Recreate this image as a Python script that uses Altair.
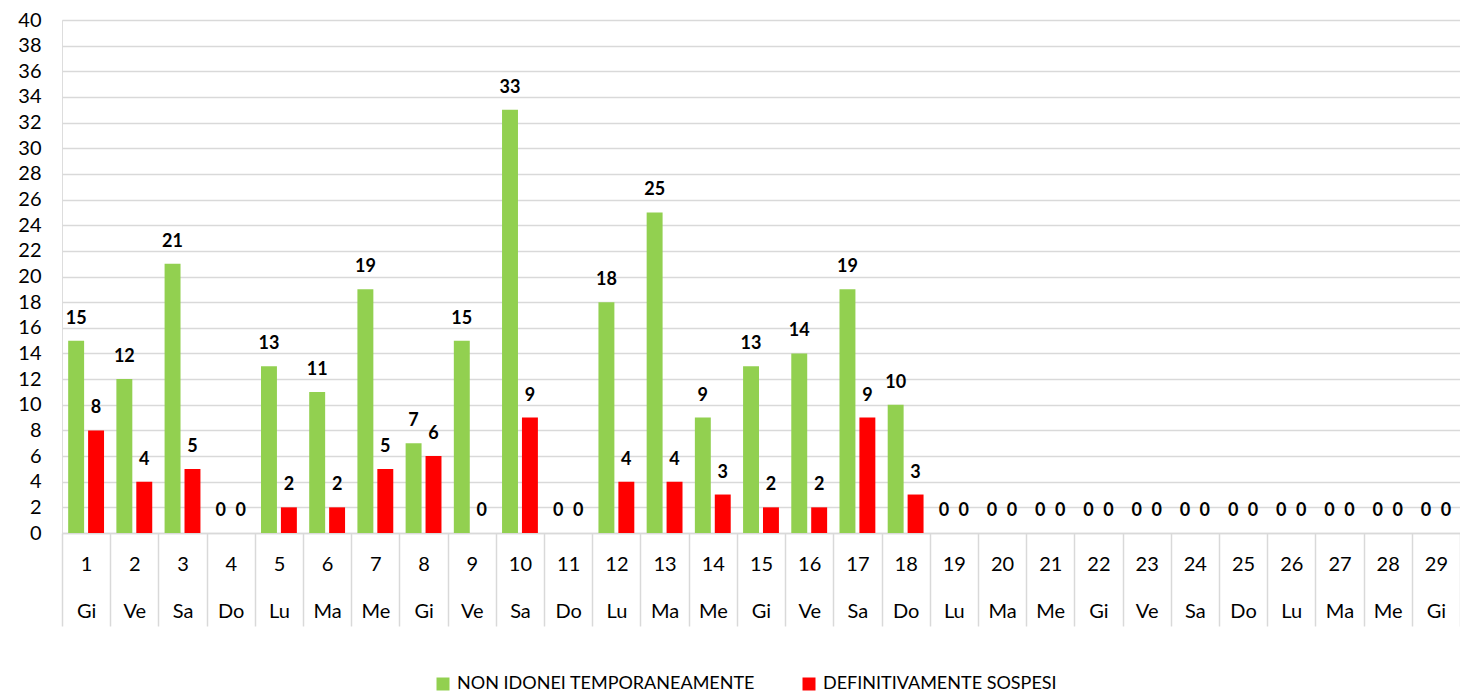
import altair as alt
import pandas as pd

days = [str(i) for i in range(1, 30)]
weekdays = ["Gi", "Ve", "Sa", "Do", "Lu", "Ma", "Me", "Gi", "Ve", "Sa", "Do", "Lu", "Ma", "Me",
            "Gi", "Ve", "Sa", "Do", "Lu", "Ma", "Me", "Gi", "Ve", "Sa", "Do", "Lu", "Ma", "Me", "Gi"]
non_idonei = [15, 12, 21, 0, 13, 11, 19, 7, 15, 33, 0, 18, 25, 9, 13, 14, 19, 10,
              0, 0, 0, 0, 0, 0, 0, 0, 0, 0, 0]
sospesi = [8, 4, 5, 0, 2, 2, 5, 6, 0, 9, 0, 4, 4, 3, 2, 2, 9, 3,
           0, 0, 0, 0, 0, 0, 0, 0, 0, 0, 0]
series_names = ["NON IDONEI TEMPORANEAMENTE", "DEFINITIVAMENTE SOSPESI"]
series_colors = ["#92d050", "#ff0000"]

keys = [f"{d}|{w}" for d, w in zip(days, weekdays)]
rows = []
for k, a, b in zip(keys, non_idonei, sospesi):
    rows.append({"key": k, "series": series_names[0], "value": a})
    rows.append({"key": k, "series": series_names[1], "value": b})
df = pd.DataFrame(rows)

FONT = "Lato"

x_enc = alt.X(
    "key:N",
    sort=keys,
    title=None,
    scale=alt.Scale(paddingInner=0, paddingOuter=0),
    axis=alt.Axis(
        labelAngle=0,
        labelExpr="split(datum.label, '|')",
        labelFontSize=20,
        labelColor="#000000",
        labelFont=FONT,
        labelLineHeight=47,
        labelPadding=-72,
        labelBaseline="top",
        ticks=True,
        tickBand="extent",
        tickSize=93,
        tickColor="#d9d9d9",
        tickWidth=1.5,
        domainColor="#d9d9d9",
        domainWidth=1.5,
        grid=False,
    ),
)
xoff_enc = alt.XOffset(
    "series:N",
    scale=alt.Scale(domain=series_names, paddingInner=0.2, paddingOuter=0.31),
)
y_enc = alt.Y(
    "value:Q",
    title=None,
    scale=alt.Scale(domain=[0, 40], nice=False),
    axis=alt.Axis(
        values=list(range(0, 41, 2)),
        grid=True,
        gridColor="#d9d9d9",
        gridWidth=1.5,
        domain=False,
        ticks=False,
        labelPadding=21,
        labelFontSize=20,
        labelColor="#000000",
        labelFont=FONT,
    ),
)

base = alt.Chart(df).encode(x=x_enc, xOffset=xoff_enc, y=y_enc)

bars = base.mark_bar().encode(
    color=alt.Color(
        "series:N",
        scale=alt.Scale(domain=series_names, range=series_colors),
        legend=alt.Legend(
            title=None,
            orient="none",
            legendX=372,
            legendY=655,
            direction="horizontal",
            symbolType="square",
            symbolSize=169,
            symbolStrokeWidth=0,
            labelFontSize=18,
            labelFont=FONT,
            labelColor="#000000",
            labelOffset=5,
            labelLimit=0,
            columnPadding=44,
        ),
    )
)

labels = base.mark_text(
    baseline="alphabetic",
    dy=-17,
    fontSize=18,
    fontWeight="bold",
    font=FONT,
    color="#000000",
).encode(text="value:Q")

chart = (
    alt.layer(bars, labels)
    .properties(
        width=1398,
        height=513,
        autosize=alt.AutoSizeParams(type="none"),
        padding={"left": 54, "top": 12, "right": 0, "bottom": 159},
    )
    .configure_view(strokeWidth=0)
    .configure(font=FONT)
)

chart.save("out.html", embed_options={"renderer": "svg", "actions": False})
